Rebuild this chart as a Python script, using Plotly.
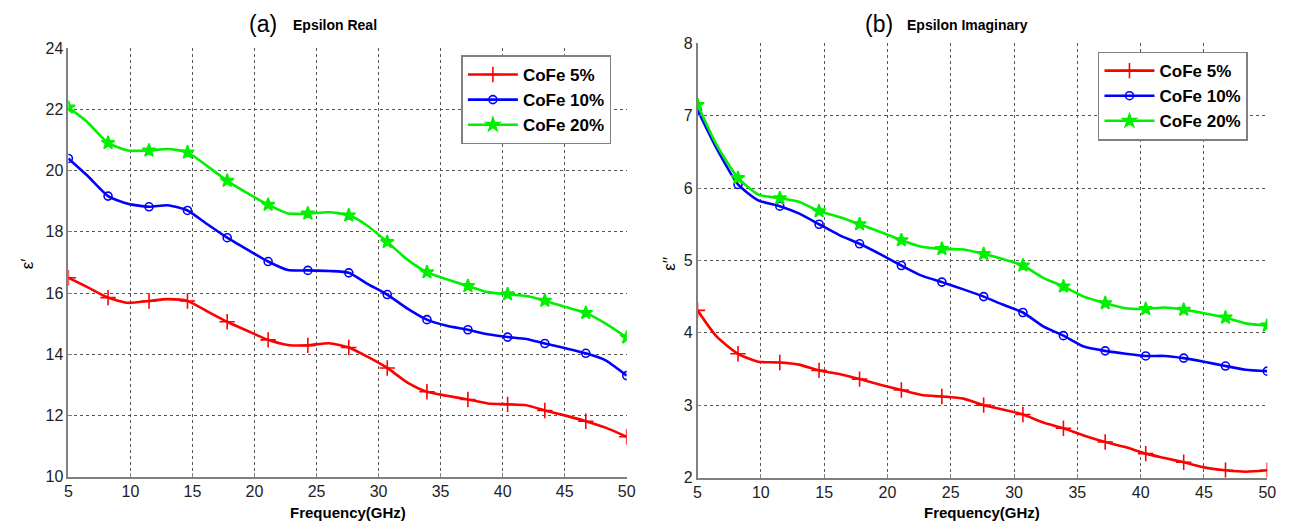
import plotly.graph_objects as go

# Frequency sampling (GHz)
freq = [5, 6.5, 8.2, 9.8, 11.5, 13, 14.6, 16.2, 17.8, 19.5, 21.1, 22.7, 24.3, 26, 27.6,
        29.1, 30.7, 32.3, 33.9, 35.5, 37.2, 38.8, 40.4, 41.9, 43.4, 45.0, 46.7, 48.3, 50]

# (a) Epsilon Real
real_5 = [16.5, 16.2, 15.85, 15.68, 15.74, 15.8, 15.74, 15.4, 15.06, 14.75, 14.47, 14.3, 14.29, 14.36, 14.22,
          13.92, 13.55, 13.08, 12.77, 12.64, 12.52, 12.39, 12.36, 12.33, 12.16, 12.0, 11.81, 11.6, 11.3]
real_10 = [20.4, 19.85, 19.17, 18.92, 18.82, 18.87, 18.7, 18.25, 17.81, 17.4, 17.03, 16.75, 16.74, 16.72, 16.66,
           16.3, 15.95, 15.5, 15.13, 14.93, 14.8, 14.65, 14.56, 14.5, 14.35, 14.2, 14.03, 13.8, 13.3]
real_20 = [22.07, 21.6, 20.91, 20.66, 20.66, 20.71, 20.6, 20.15, 19.67, 19.25, 18.89, 18.6, 18.6, 18.64, 18.54,
           18.2, 17.67, 17.1, 16.68, 16.45, 16.23, 16.03, 15.96, 15.9, 15.75, 15.55, 15.35, 15.0, 14.55]

# (b) Epsilon Imaginary
imag_5 = [4.31, 3.95, 3.71, 3.6, 3.59, 3.56, 3.48, 3.43, 3.36, 3.28, 3.21, 3.14, 3.12, 3.09, 3.0,
          2.94, 2.87, 2.76, 2.68, 2.58, 2.49, 2.42, 2.33, 2.27, 2.21, 2.14, 2.1, 2.08, 2.1]
imag_10 = [7.08, 6.55, 6.05, 5.83, 5.75, 5.65, 5.5, 5.35, 5.23, 5.08, 4.93, 4.79, 4.7, 4.6, 4.5,
           4.39, 4.28, 4.09, 3.96, 3.81, 3.75, 3.71, 3.68, 3.68, 3.65, 3.6, 3.54, 3.49, 3.47]
imag_20 = [7.15, 6.6, 6.14, 5.91, 5.86, 5.81, 5.68, 5.6, 5.5, 5.39, 5.28, 5.19, 5.16, 5.15, 5.09,
           5.02, 4.93, 4.76, 4.64, 4.5, 4.41, 4.34, 4.33, 4.35, 4.32, 4.27, 4.21, 4.13, 4.1]

series_names = ["CoFe 5%", "CoFe 10%", "CoFe 20%"]
colors = ["#ff0000", "#0000ff", "#00f000"]
symbols = ["cross-thin", "circle-open", "star"]
msizes = [11, 8, 10]

W, H = 1303, 532
FONT = "Liberation Sans, Arial, sans-serif"

fig = go.Figure()

panels = [
    ("x", "y", "legend", [real_5, real_10, real_20]),
    ("x2", "y2", "legend2", [imag_5, imag_10, imag_20]),
]

for xa, ya, lg, data in panels:
    for name, col, sym, ms, vals in zip(series_names, colors, symbols, msizes, data):
        fig.add_trace(go.Scatter(
            x=freq, y=vals, mode="lines", xaxis=xa, yaxis=ya,
            line=dict(color=col, width=2.6, shape="spline", smoothing=0.6),
            showlegend=False, hoverinfo="skip"))
        fig.add_trace(go.Scatter(
            x=freq[::2], y=vals[::2], mode="markers", xaxis=xa, yaxis=ya,
            marker=dict(symbol=sym, size=ms, color=col,
                        line=dict(color=col, width=1.6)),
            showlegend=False, name=name))
        fig.add_trace(go.Scatter(
            x=[None], y=[None], mode="lines+markers", xaxis=xa, yaxis=ya,
            line=dict(color=col, width=2.6),
            marker=dict(symbol=sym, size=ms, color=col, line=dict(color=col, width=1.6)),
            name=name, legend=lg, showlegend=True))

axis_common = dict(
    showline=True, linecolor="#808080", linewidth=1.5,
    showgrid=True, gridcolor="#555555", gridwidth=1, griddash="dot",
    zeroline=False, ticks="inside", ticklen=4, tickcolor="#808080",
    tickfont=dict(family=FONT, size=16, color="#222222"),
    mirror=False,
)

legend_common = dict(
    xanchor="left", yanchor="top",
    bgcolor="white", bordercolor="#808080", borderwidth=1.5,
    font=dict(family=FONT, size=17, color="black", weight="bold"),
    itemwidth=50, tracegroupgap=0,
)

fig.update_layout(
    width=W, height=H,
    margin=dict(l=0, r=0, t=0, b=0),
    paper_bgcolor="white", plot_bgcolor="white",
    xaxis=dict(domain=[65 / W, 629 / W], range=[5, 50], dtick=5, anchor="y", **axis_common),
    yaxis=dict(domain=[1 - 484 / H, 1 - 41.7 / H], range=[10, 24], dtick=2, anchor="x", **axis_common),
    xaxis2=dict(domain=[700.5 / W, 1276 / W], range=[5, 50], dtick=5, anchor="y2", **axis_common),
    yaxis2=dict(domain=[1 - 485 / H, 1 - 36.5 / H], range=[2, 8], dtick=1, anchor="x2", **axis_common),
    legend=dict(x=462 / W, y=1 - 49 / H, **legend_common),
    legend2=dict(x=1105 / W, y=1 - 45 / H, **legend_common),
    showlegend=True,
)


def ann(x, y, text, size, xanchor="center", bold=False, angle=0):
    return dict(x=x / W, y=1 - y / H, xref="paper", yref="paper", showarrow=False,
                xanchor=xanchor, yanchor="middle", textangle=angle,
                text=f"<b>{text}</b>" if bold else text,
                font=dict(family=FONT, size=size, color="black"))


annotations = [
    ann(262, 17, "(a)", 23),
    ann(290, 18, "Epsilon Real", 14, xanchor="left", bold=True),
    ann(884, 17, "(b)", 23),
    ann(910, 18, "Epsilon Imaginary", 14, xanchor="left", bold=True),
    ann(347, 521, "Frequency(GHz)", 15, bold=True),
    ann(988, 521, "Frequency(GHz)", 15, bold=True),
    ann(24, 264, "ε′", 17, angle=-90),
    ann(672, 264, "ε′′", 17, angle=-90),
]
fig.update_layout(annotations=annotations)

fig.write_html("out.html")
